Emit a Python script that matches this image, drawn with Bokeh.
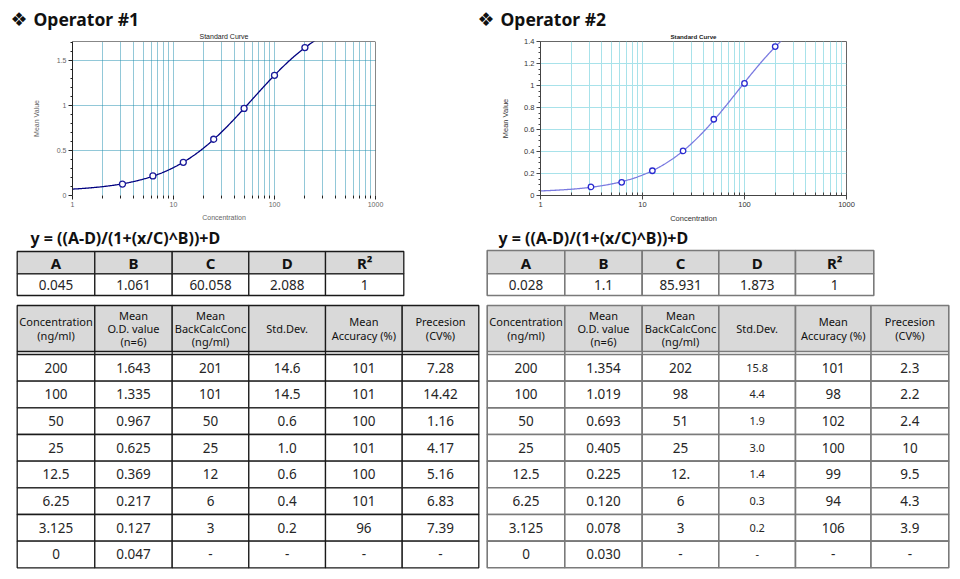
import numpy as np
from bokeh.plotting import figure
from bokeh.models import Range1d, FixedTicker, Span
from bokeh.layouts import column, row
from bokeh.embed import file_html
from bokeh.resources import INLINE
from bokeh.core.properties import value

# ---------------- data ----------------
operator_titles = ["Operator #1", "Operator #2"]
equation_text = "y = ((A-D)/(1+(x/C)^B))+D"
param_names = ["A", "B", "C", "D", "R²"]
op1_params = [0.045, 1.061, 60.058, 2.088, 1]
op2_params = [0.028, 1.1, 85.931, 1.873, 1]

table_headers = ["Concentration\n(ng/ml)", "Mean\nO.D. value\n(n=6)", "Mean\nBackCalcConc\n(ng/ml)",
                 "Std.Dev.", "Mean\nAccuracy (%)", "Precesion\n(CV%)"]
concentration = [200, 100, 50, 25, 12.5, 6.25, 3.125, 0]

op1_mean_od = [1.643, 1.335, 0.967, 0.625, 0.369, 0.217, 0.127, 0.047]
op1_backcalc = ["201", "101", "50", "25", "12", "6", "3", "-"]
op1_stddev = ["14.6", "14.5", "0.6", "1.0", "0.6", "0.4", "0.2", "-"]
op1_accuracy = ["101", "101", "100", "101", "100", "101", "96", "-"]
op1_cv = ["7.28", "14.42", "1.16", "4.17", "5.16", "6.83", "7.39", "-"]

op2_mean_od = [1.354, 1.019, 0.693, 0.405, 0.225, 0.120, 0.078, 0.030]
op2_backcalc = ["202", "98", "51", "25", "12.", "6", "3", "-"]
op2_stddev = ["15.8", "4.4", "1.9", "3.0", "1.4", "0.3", "0.2", "-"]
op2_accuracy = ["101", "98", "102", "100", "99", "94", "106", "-"]
op2_cv = ["2.3", "2.2", "2.4", "10", "9.5", "4.3", "3.9", "-"]

x_ticks = [1, 10, 100, 1000]
x_tick_labels = ["1", "10", "100", "1000"]
op1_y_ticks = [0, 0.5, 1, 1.5]
op2_y_ticks = [0, 0.2, 0.4, 0.6, 0.8, 1, 1.2, 1.4]

# ---------------- helpers ----------------
x_minor = [m * d for d in (1, 10, 100) for m in range(2, 10)]
x_grid = sorted(x_ticks + x_minor)

STRIP_H = 30
TABLE_TOP = 226
CHART_H = TABLE_TOP - STRIP_H
NOTO = value("Noto Sans")


def fmt(v):
    return "0" if v == 0 else ("1" if v == 1 else f"{v:g}")


def make_chart(params, od, ymax, y_ticks, y_minor, y_grid, borders, st):
    A, B, C, D, _ = params
    left, right, top, bottom = borders
    p = figure(width=480, height=CHART_H, x_axis_type="log",
               x_range=Range1d(1, 1000), y_range=Range1d(0, ymax),
               output_backend="svg", toolbar_location=None,
               min_border_left=left, min_border_right=right,
               min_border_top=top, min_border_bottom=bottom,
               background_fill_color="white", border_fill_color="white")
    p.title.text = "Standard Curve"
    p.title.align = "center"
    p.title.text_font = "Liberation Sans"
    p.title.text_font_size = st["title_size"]
    p.title.text_font_style = st["title_style"]
    p.title.text_color = "#1a1a1a"
    p.title.standoff = 0
    p.title.vertical_align = "top"

    p.xaxis.ticker = FixedTicker(ticks=x_ticks, minor_ticks=x_minor)
    p.xaxis.major_label_overrides = {float(t): l for t, l in zip(x_ticks, x_tick_labels)}
    p.yaxis.ticker = FixedTicker(ticks=y_ticks, minor_ticks=y_minor)
    p.yaxis.major_label_overrides = {float(t): fmt(t) for t in y_ticks}

    for ax in (p.xaxis[0], p.yaxis[0]):
        ax.major_label_text_font = "Liberation Sans"
        ax.major_label_text_font_size = st["tick_size"]
        ax.major_label_text_color = st["tick_color"]
        ax.axis_label_text_font = "Liberation Sans"
        ax.axis_label_text_font_size = st["tick_size"]
        ax.axis_label_text_font_style = "normal"
        ax.axis_label_text_color = st["tick_color"]
        ax.major_tick_line_color = st["axis_color"]
        ax.minor_tick_line_color = st["axis_color"]
        ax.axis_line_color = st["axis_color"]
        ax.major_label_standoff = 2
    p.xaxis.axis_label = "Concentration"
    p.yaxis.axis_label = "Mean Value"
    p.xaxis.axis_label_standoff = 4
    p.yaxis.axis_label_standoff = st["ylabel_standoff"]
    p.xaxis.major_tick_out = 4
    p.xaxis.major_tick_in = st["x_tick_in"]
    p.xaxis.minor_tick_out = st["x_minor_out"]
    p.xaxis.minor_tick_in = st["x_minor_in"]
    p.yaxis.major_tick_out = 4
    p.yaxis.major_tick_in = 0
    p.yaxis.minor_tick_out = 2
    p.yaxis.minor_tick_in = 0
    if not st["x_axis_line"]:
        p.xaxis.axis_line_color = None

    p.xgrid.ticker = FixedTicker(ticks=x_grid)
    p.ygrid.ticker = FixedTicker(ticks=y_grid)
    for g in (p.xgrid[0], p.ygrid[0]):
        g.grid_line_color = st["grid_color"]
        g.grid_line_width = 1
        g.grid_line_dash = st["grid_dash"]

    p.outline_line_color = st["outline"]

    xs = np.logspace(0, 3, 400)
    ys = (A - D) / (1 + (xs / C) ** B) + D
    p.line(xs, ys, line_color=st["curve"], line_width=st["curve_w"])
    px = [c for c in concentration if c > 0]
    py = [o for c, o in zip(concentration, od) if c > 0]
    p.scatter(px, py, marker="circle", size=st["marker_size"], fill_color="white",
              line_color=st["marker"], line_width=1.3)
    return p


st1 = dict(title_size="7px", title_style="normal", tick_size="7px",
           tick_color="#666666", axis_color="#222222", ylabel_standoff=14,
           x_tick_in=0, x_minor_out=3, x_minor_in=0, x_axis_line=False,
           grid_color="#2590b0", grid_dash="1 1", outline="#111111",
           curve="#000080", curve_w=1.3, marker="#1a1a9a", marker_size=6)
st2 = dict(title_size="6.2px", title_style="bold", tick_size="7.5px",
           tick_color="#333333", axis_color="#444444", ylabel_standoff=11,
           x_tick_in=3, x_minor_out=0, x_minor_in=3, x_axis_line=True,
           grid_color="#a8e2ea", grid_dash="solid", outline="#666666",
           curve="#7a7ae0", curve_w=1.3, marker="#2a2ad0", marker_size=5.5)

c1 = make_chart(op1_params, op1_mean_od, 1.711, op1_y_ticks,
                [round(v, 2) for v in np.arange(0.1, 1.71, 0.1) if round(v, 2) not in op1_y_ticks],
                [0.5, 1, 1.5], (72, 105, 41 - STRIP_H, TABLE_TOP - 196), st1)
c1.outline_line_color = None
c1.add_layout(Span(location=1000, dimension="height", line_color="#111111", line_width=1))
c1.add_layout(Span(location=1.711, dimension="width", line_color="#111111", line_width=1))

c2 = make_chart(op2_params, op2_mean_od, 1.4, op2_y_ticks,
                [round(v, 2) for v in np.arange(0.05, 1.4, 0.05) if round(v, 2) not in op2_y_ticks],
                [0.2, 0.4, 0.6, 0.8, 1, 1.2], (60, 114, 39 - STRIP_H, TABLE_TOP - 195), st2)

# ---------------- heading strip ----------------
hs = figure(width=960, height=STRIP_H, x_range=Range1d(0, 960), y_range=Range1d(STRIP_H, 0),
            x_axis_type=None, y_axis_type=None, output_backend="svg", toolbar_location=None,
            min_border=0, outline_line_color=None)
hs.grid.visible = False
hs.text(x=[18.5, 485.5], y=[18.5, 18.5], text=["❖", "❖"], text_font=value("DejaVu Sans"),
        text_font_size="19px", text_align="center", text_baseline="middle", text_color="#111111")
hs.text(x=[33, 500], y=[18.5, 18.3], text=operator_titles, text_font=NOTO,
        text_font_size="17.5px", text_font_style="bold", text_align="left",
        text_baseline="middle", text_color="#111111")

# ---------------- tables ----------------
tp = figure(width=960, height=579 - TABLE_TOP, x_range=Range1d(0, 960), y_range=Range1d(579, TABLE_TOP),
            x_axis_type=None, y_axis_type=None, output_backend="svg", toolbar_location=None,
            min_border=0, outline_line_color=None)
tp.grid.visible = False

layouts = [
    dict(eq_x=30, prow=[251, 273.3, 295],
         pcols=[16.7, 94.3, 171.7, 248.3, 325, 403.3],
         mcols=[16.7, 94.3, 171.7, 248.3, 325, 401.7, 478.3],
         line="#1a1a1a", lw=1.3, std_size="13.5px"),
    dict(eq_x=498, prow=[250, 273.3, 295],
         pcols=[486.7, 564.3, 641.7, 718.3, 795, 873.3],
         mcols=[486.7, 564.3, 641.7, 718.3, 795, 870.5, 948.3],
         line="#7a7a7a", lw=1.6, std_size="11px"),
]
data_sets = [
    (op1_params, op1_mean_od, op1_backcalc, op1_stddev, op1_accuracy, op1_cv),
    (op2_params, op2_mean_od, op2_backcalc, op2_stddev, op2_accuracy, op2_cv),
]
HEAD_FILL = "#d9d9d9"

for lay, (params, od, bc, sd, acc, cv) in zip(layouts, data_sets):
    # equation
    tp.text(x=[lay["eq_x"]], y=[237], text=[equation_text], text_font=NOTO,
            text_font_size="16px", text_font_style="bold", text_align="left",
            text_baseline="middle", text_color="#111111")
    # parameter table
    pc = lay["pcols"]
    r0, r1, r2 = lay["prow"]
    n = len(pc) - 1
    tp.quad(left=pc[:-1], right=pc[1:], top=[r0] * n, bottom=[r1] * n,
            fill_color=HEAD_FILL, line_color=lay["line"], line_width=lay["lw"])
    tp.quad(left=pc[:-1], right=pc[1:], top=[r1] * n, bottom=[r2] * n,
            fill_color="white", line_color=lay["line"], line_width=lay["lw"])
    pcx = [(a + b) / 2 for a, b in zip(pc[:-1], pc[1:])]
    tp.text(x=pcx, y=[(r0 + r1) / 2 + 0.5] * n, text=param_names, text_font=NOTO,
            text_font_size="15px", text_font_style="bold", text_align="center",
            text_baseline="middle", text_color="#111111")
    tp.text(x=pcx, y=[(r1 + r2) / 2 + 0.5] * n, text=[f"{v:g}" for v in params], text_font=NOTO,
            text_font_size="13.5px", text_align="center", text_baseline="middle",
            text_color="#262626")
    # main table
    mc = lay["mcols"]
    m = len(mc) - 1
    h0, h1_, b0, b1 = 305, 351, 354, 567.3
    tp.quad(left=mc[:-1], right=mc[1:], top=[h0] * m, bottom=[h1_] * m,
            fill_color=HEAD_FILL, line_color=lay["line"], line_width=lay["lw"])
    tp.segment(x0=mc, y0=[h1_] * (m + 1), x1=mc, y1=[b0] * (m + 1),
               line_color=lay["line"], line_width=lay["lw"])
    mcx = [(a + b) / 2 for a, b in zip(mc[:-1], mc[1:])]
    tp.text(x=mcx, y=[(h0 + h1_) / 2] * m, text=table_headers, text_font=NOTO,
            text_font_size="11px", text_align="center", text_baseline="middle",
            text_color="#111111", text_line_height=0.88)
    nrows = len(concentration)
    rh = (b1 - b0) / nrows
    lefts, rights, tops, bots = [], [], [], []
    for i in range(nrows):
        for j in range(m):
            lefts.append(mc[j]); rights.append(mc[j + 1])
            tops.append(b0 + i * rh); bots.append(b0 + (i + 1) * rh)
    tp.quad(left=lefts, right=rights, top=tops, bottom=bots, fill_color="white",
            line_color=lay["line"], line_width=lay["lw"])
    cols = [[f"{c:g}" for c in concentration], [f"{v:.3f}" for v in od], bc, sd, acc, cv]
    ys = [b0 + (i + 0.5) * rh for i in range(nrows)]
    for j, col in enumerate(cols):
        tp.text(x=[mcx[j]] * nrows, y=ys, text=col, text_font=NOTO,
                text_font_size=lay["std_size"] if j == 3 else "13.5px",
                text_align="center", text_baseline="middle", text_color="#262626")

layout = column(hs, row(c1, c2, spacing=0), tp, spacing=0)
open("out.html", "w").write(file_html(layout, INLINE))
